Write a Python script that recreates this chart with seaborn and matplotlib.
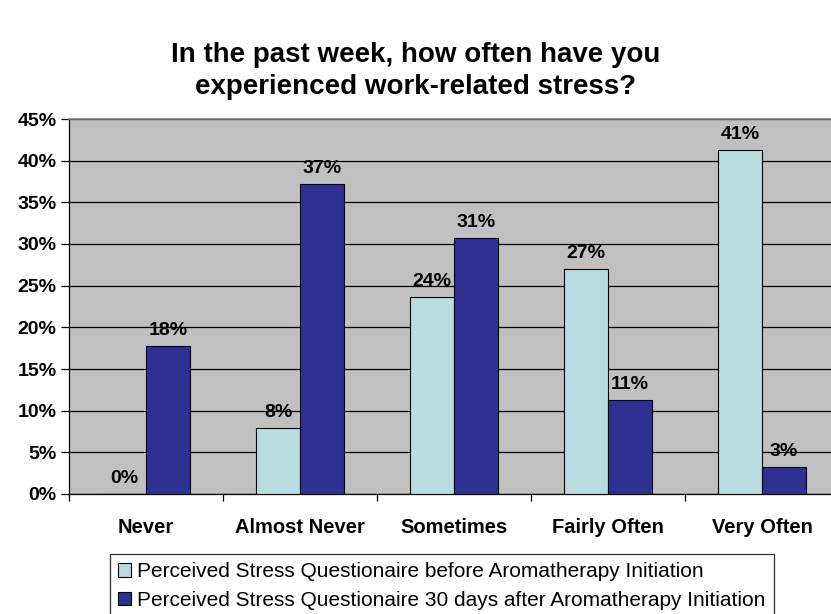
import matplotlib
matplotlib.use("Agg")
import matplotlib.pyplot as plt
import seaborn as sns
import pandas as pd
from matplotlib.patches import Patch
from matplotlib.ticker import FixedLocator

categories = ["Never", "Almost Never", "Sometimes", "Fairly Often", "Very Often"]
before_vals = [0.0, 7.9, 23.7, 27.0, 41.3]
after_vals = [17.8, 37.2, 30.7, 11.3, 3.2]
series_names = [
    "Perceived Stress Questionaire before Aromatherapy Initiation",
    "Perceived Stress Questionaire 30 days after Aromatherapy Initiation",
]
ytick_vals = [0, 5, 10, 15, 20, 25, 30, 35, 40, 45]
ytick_labels = [f"{v}%" for v in ytick_vals]

colors = ["#B8DCE0", "#2E3192"]

sns.set_theme(style="white")
plt.rcParams["font.family"] = ["Liberation Sans", "DejaVu Sans"]
plt.rcParams["text.color"] = "black"
plt.rcParams["xtick.color"] = "black"
plt.rcParams["ytick.color"] = "black"

df = pd.DataFrame({
    "category": categories * 2,
    "value": before_vals + after_vals,
    "series": [series_names[0]] * len(categories) + [series_names[1]] * len(categories),
})

fig = plt.figure(figsize=(8.31, 6.14), dpi=100)
ax = fig.add_axes([69 / 831, 1 - 494 / 614, 1 - 69 / 831, (494 - 119) / 614])
ax.set_facecolor("#C0C0C0")

sns.barplot(
    data=df, x="category", y="value", hue="series", order=categories,
    hue_order=series_names, palette=colors, width=0.571,
    edgecolor="black", linewidth=0.8, saturation=1, ax=ax, legend=False,
    zorder=3,
)

ax.set_xlim(-0.5, 4.5 - 8 / 154)
ax.set_ylim(0, 45)
ax.set_yticks(ytick_vals)
ax.set_yticklabels(ytick_labels, fontsize=14, fontweight="bold")
ax.yaxis.grid(True, color="black", linewidth=0.9)
ax.set_axisbelow(True)
ax.tick_params(axis="y", which="major", length=6, width=0.9, color="black",
               pad=3, direction="out", left=True)

ax.set_xticks(range(len(categories)))
ax.set_xticklabels(categories, fontsize=14.5, fontweight="bold")
ax.tick_params(axis="x", which="major", length=0, pad=17)
ax.xaxis.set_minor_locator(FixedLocator([i - 0.5 for i in range(len(categories) + 1)]))
ax.tick_params(axis="x", which="minor", length=5, width=0.9, color="black",
               direction="out", bottom=True)
ax.set_xlabel("")
ax.set_ylabel("")

for side in ["left", "bottom"]:
    ax.spines[side].set_color("black")
    ax.spines[side].set_linewidth(0.9)
ax.spines["top"].set_color("#808080")
ax.spines["top"].set_linewidth(1.2)
ax.spines["right"].set_visible(False)

for container in ax.containers:
    ax.bar_label(container, labels=[f"{v:.0f}%" for v in container.datavalues],
                 padding=5, fontsize=14, fontweight="bold", color="black")

fig.text(0.5, 1 - 71 / 614,
         "In the past week, how often have you\nexperienced work-related stress?",
         ha="center", va="center", fontsize=20, fontweight="bold",
         linespacing=1.32)

handles = [Patch(facecolor=c, edgecolor="black", linewidth=0.8) for c in colors]
leg = fig.legend(handles, series_names, loc="upper left",
                 bbox_to_anchor=(110 / 831, 1 - 554 / 614),
                 frameon=True, fancybox=False, fontsize=15,
                 handlelength=0.6, handleheight=0.6, handletextpad=0.3,
                 borderpad=0.4, labelspacing=0.45, borderaxespad=0)
leg.get_frame().set_edgecolor("black")
leg.get_frame().set_linewidth(0.9)

fig.savefig("out.png", dpi=100)
